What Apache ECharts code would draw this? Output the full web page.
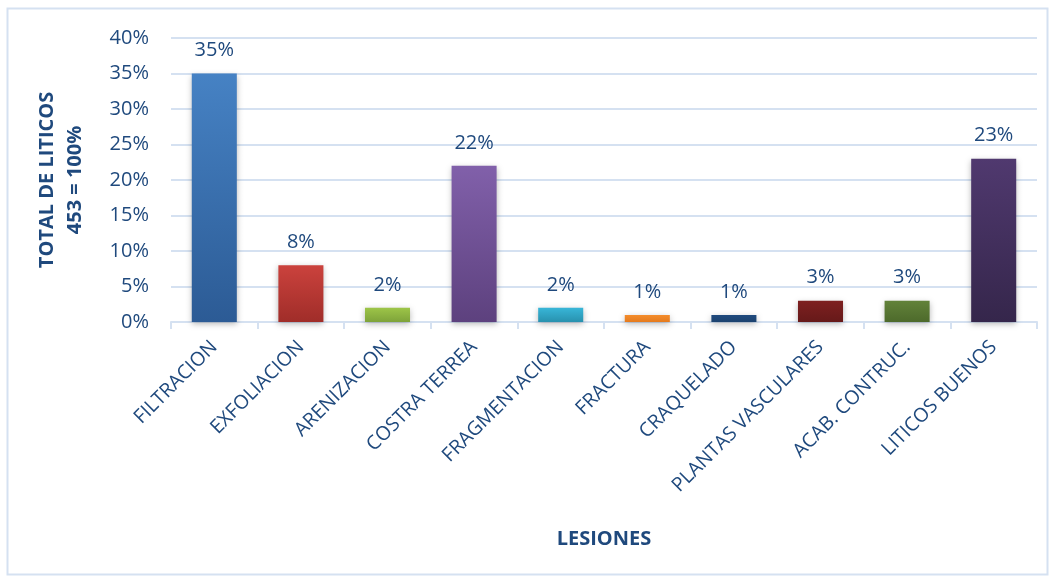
<!DOCTYPE html>
<html>
<head>
<meta charset="utf-8">
<script src="https://cdn.jsdelivr.net/npm/echarts@6/dist/echarts.min.js"></script>
<style>
  html, body { margin: 0; padding: 0; background: #ffffff; }
  #chart { width: 1055px; height: 580px; }
</style>
</head>
<body>
<div id="chart"></div>
<script>
// Lesiones registradas en los líticos (porcentaje del total)
const categories = [
  'FILTRACION', 'EXFOLIACION', 'ARENIZACION', 'COSTRA TERREA', 'FRAGMENTACION',
  'FRACTURA', 'CRAQUELADO', 'PLANTAS VASCULARES', 'ACAB. CONTRUC.', 'LITICOS BUENOS'
];
const values = [35, 8, 2, 22, 2, 1, 1, 3, 3, 23];
const yTicks = [0, 5, 10, 15, 20, 25, 30, 35, 40];

// top / bottom colour of each bar's gradient
const barTop = ['#4682c4', '#cb423d', '#9dc548', '#8160aa', '#38b6d8', '#f48d2c', '#1f4a7e', '#7e2020', '#62823a', '#50396f'];
const barBottom = ['#2c5b95', '#a02d29', '#7ea33a', '#5d417e', '#2891ae', '#e57a1d', '#1c426f', '#661919', '#4d6a2b', '#35264b'];

const textColor = '#1f497d';
const gridColor = '#d5e1f1';

const chart = echarts.init(document.getElementById('chart'), null, { renderer: 'canvas' });

chart.setOption({
  backgroundColor: '#ffffff',
  animation: false,
  graphic: [{
    type: 'rect',
    shape: { x: 7.5, y: 8.5, width: 1040, height: 566 },
    style: { fill: 'none', stroke: '#d5e1f1', lineWidth: 2 },
    silent: true,
    z: -1
  }],
  grid: { left: 171, right: 18, top: 38, bottom: 258 },
  xAxis: {
    type: 'category',
    data: categories,
    name: 'LESIONES',
    nameLocation: 'middle',
    nameGap: 207,
    nameTextStyle: { color: textColor, fontFamily: 'Open Sans', fontWeight: 'bold', fontSize: 20 },
    axisLine: { show: true, lineStyle: { color: gridColor, width: 2 } },
    axisTick: { show: true, alignWithLabel: false, length: 7, lineStyle: { color: gridColor, width: 2 } },
    axisLabel: {
      rotate: 45,
      interval: 0,
      margin: 22,
      color: textColor,
      fontFamily: 'Open Sans',
      fontSize: 19.5
    }
  },
  yAxis: {
    type: 'value',
    min: yTicks[0],
    max: yTicks[yTicks.length - 1],
    interval: 5,
    name: 'TOTAL DE LITICOS\n453 = 100%',
    nameLocation: 'middle',
    nameGap: 82,
    nameRotate: 90,
    nameTextStyle: {
      color: textColor, fontFamily: 'Open Sans', fontWeight: 'bold', fontSize: 20, lineHeight: 28, align: 'center'
    },
    axisLine: { show: false },
    axisTick: { show: false },
    splitLine: { show: true, lineStyle: { color: gridColor, width: 2 } },
    axisLabel: {
      margin: 22,
      color: textColor,
      fontFamily: 'Open Sans',
      fontSize: 20,
      formatter: v => v + '%'
    }
  },
  series: [{
    type: 'bar',
    barWidth: '52%',
    data: values.map((v, i) => ({
      value: v,
      itemStyle: {
        color: new echarts.graphic.LinearGradient(0, 0, 0, 1, [
          { offset: 0, color: barTop[i] },
          { offset: 1, color: barBottom[i] }
        ]),
        shadowColor: 'rgba(0,0,0,0.28)',
        shadowBlur: 6,
        shadowOffsetY: 2
      }
    })),
    label: {
      show: true,
      position: 'top',
      distance: 13,
      color: textColor,
      fontFamily: 'Open Sans',
      fontSize: 20,
      formatter: p => p.value + '%'
    }
  }]
});
</script>
</body>
</html>
